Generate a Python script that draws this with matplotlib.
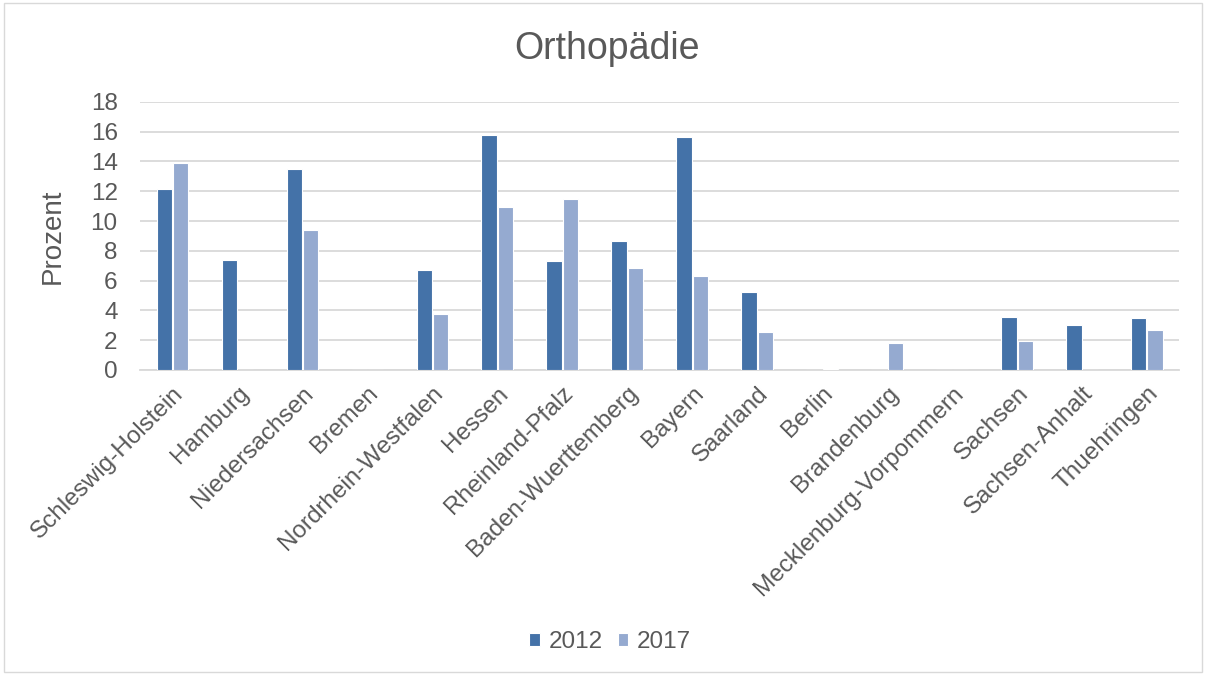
import matplotlib
matplotlib.use("Agg")
import matplotlib.pyplot as plt
import numpy as np

categories = ["Schleswig-Holstein", "Hamburg", "Niedersachsen", "Bremen",
              "Nordrhein-Westfalen", "Hessen", "Rheinland-Pfalz",
              "Baden-Wuerttemberg", "Bayern", "Saarland", "Berlin",
              "Brandenburg", "Mecklenburg-Vorpommern", "Sachsen",
              "Sachsen-Anhalt", "Thuehringen"]
values_2012 = [12.14, 7.39, 13.48, 0, 6.7, 15.76, 7.3, 8.64, 15.65, 5.26,
               0, 0, 0, 3.54, 3.0, 3.49]
values_2017 = [13.9, 0, 9.42, 0, 3.74, 10.95, 11.46, 6.83, 6.33, 2.55,
               0.05, 1.81, 0, 1.97, 0, 2.69]
series_labels = ["2012", "2017"]
yticks = [0, 2, 4, 6, 8, 10, 12, 14, 16, 18]

c1 = "#4472a8"
c2 = "#95aad0"
txt = "#595959"

plt.rcParams['font.family'] = ['Liberation Sans', 'DejaVu Sans']

fig = plt.figure(figsize=(12.06, 6.75), dpi=100)
ax = fig.add_axes([0.116, 0.452, 0.862, 0.397])

x = np.arange(len(categories))
w = 0.235
ax.bar(x - 0.125, values_2012, width=w, color=c1, edgecolor="white",
       linewidth=0.8, label=series_labels[0], zorder=3)
ax.bar(x + 0.125, values_2017, width=w, color=c2, edgecolor="white",
       linewidth=0.8, label=series_labels[1], zorder=3)

ax.set_xlim(-0.5, len(categories) - 0.5)
ax.set_ylim(0, 18)
ax.set_yticks(yticks)
ax.set_yticklabels([str(t) for t in yticks], fontsize=17.5, color=txt)
ax.set_xticks(x)
ax.set_xticklabels(categories, rotation=45, ha="right", rotation_mode="anchor",
                   fontsize=17.5, color=txt)
ax.tick_params(axis="both", length=0)
ax.tick_params(axis="x", pad=9)
ax.tick_params(axis="y", pad=16)
ax.grid(axis="y", color="#d9d9d9", linewidth=1.3, zorder=0)
for s in ["top", "right", "left"]:
    ax.spines[s].set_visible(False)
ax.spines["bottom"].set_color("#d9d9d9")
ax.spines["bottom"].set_linewidth(1.3)

ax.set_ylabel("Prozent", fontsize=20, color=txt, labelpad=18)
fig.text(0.503, 0.928, "Orthopädie", ha="center", va="center",
         fontsize=27, color=txt)

leg = fig.legend(loc="center", bbox_to_anchor=(0.506, 0.049), ncol=2,
                 frameon=False, fontsize=17.5, handlelength=0.45,
                 handleheight=0.45, handletextpad=0.35, columnspacing=0.6)
for t in leg.get_texts():
    t.set_color(txt)

border = plt.Rectangle((0.003, 0.004), 0.994, 0.992, transform=fig.transFigure,
                       fill=False, edgecolor="#d9d9d9", linewidth=1)
fig.patches.append(border)

fig.savefig("out.png", dpi=100)
